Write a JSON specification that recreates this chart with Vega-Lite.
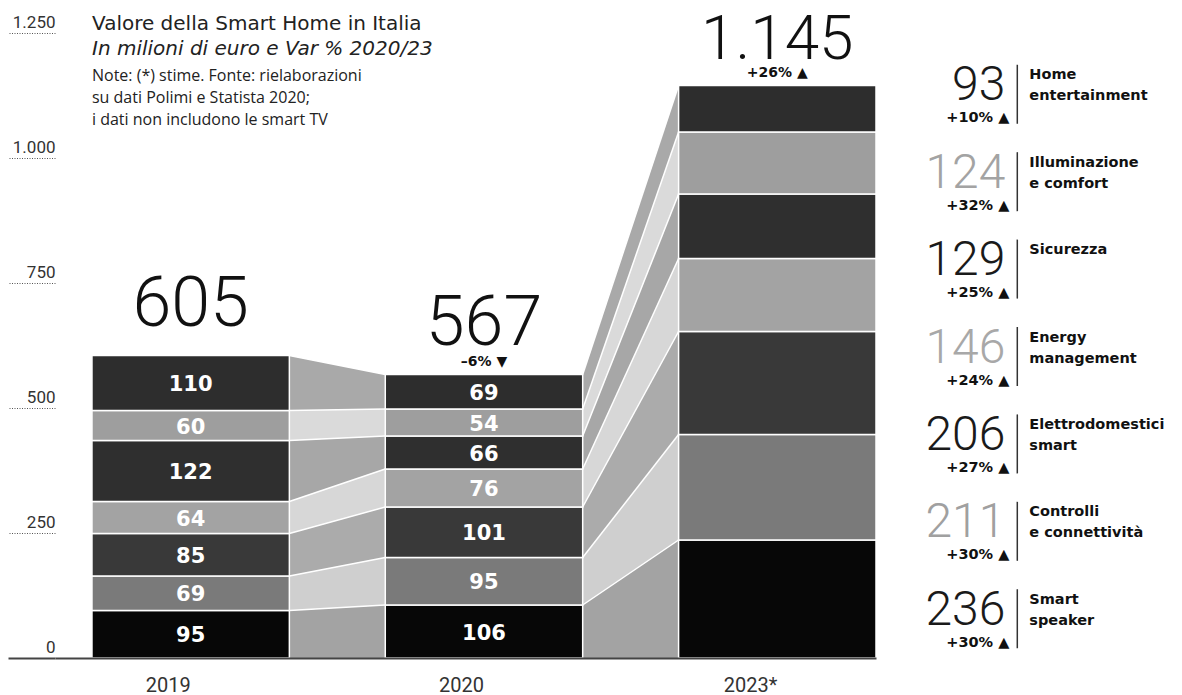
{
  "$schema": "https://vega.github.io/schema/vega-lite/v6.json",
  "autosize": {"type": "none"},
  "padding": {"left": 55, "top": 33, "right": 306, "bottom": 37},
  "width": 821,
  "height": 625,
  "background": "white",
  "config": {
    "view": {"stroke": null},
    "font": "Roboto",
    "locale": {"number": {"decimal": ",", "thousands": ".", "grouping": [3], "currency": ["€", ""]}}
  },
  "title": {
    "text": "Valore della Smart Home in Italia",
    "subtitle": "In milioni di euro e Var % 2020/23",
    "anchor": "start",
    "frame": "group",
    "dx": 37,
    "offset": -50,
    "font": "DejaVu Sans",
    "fontSize": 20,
    "fontWeight": "normal",
    "color": "#222222",
    "subtitleFont": "DejaVu Sans",
    "subtitleFontSize": 20,
    "subtitleFontStyle": "italic",
    "subtitleColor": "#222222",
    "subtitlePadding": 5
  },
  "datasets": {
    "seg": [
      {"year": "2019", "category": "Smart speaker", "value": 95},
      {"year": "2019", "category": "Controlli e connettività", "value": 69},
      {"year": "2019", "category": "Elettrodomestici smart", "value": 85},
      {"year": "2019", "category": "Energy management", "value": 64},
      {"year": "2019", "category": "Sicurezza", "value": 122},
      {"year": "2019", "category": "Illuminazione e comfort", "value": 60},
      {"year": "2019", "category": "Home entertainment", "value": 110},
      {"year": "2020", "category": "Smart speaker", "value": 106},
      {"year": "2020", "category": "Controlli e connettività", "value": 95},
      {"year": "2020", "category": "Elettrodomestici smart", "value": 101},
      {"year": "2020", "category": "Energy management", "value": 76},
      {"year": "2020", "category": "Sicurezza", "value": 66},
      {"year": "2020", "category": "Illuminazione e comfort", "value": 54},
      {"year": "2020", "category": "Home entertainment", "value": 69},
      {"year": "2023*", "category": "Smart speaker", "value": 236},
      {"year": "2023*", "category": "Controlli e connettività", "value": 211},
      {"year": "2023*", "category": "Elettrodomestici smart", "value": 206},
      {"year": "2023*", "category": "Energy management", "value": 146},
      {"year": "2023*", "category": "Sicurezza", "value": 129},
      {"year": "2023*", "category": "Illuminazione e comfort", "value": 124},
      {"year": "2023*", "category": "Home entertainment", "value": 93}
    ],
    "totals": [
      {"year": "2019", "total": 605, "change": ""},
      {"year": "2020", "total": 567, "change": "–6% ▼"},
      {"year": "2023*", "total": 1145, "change": "+26% ▲"}
    ],
    "legend": [
      {"category": "Home entertainment", "value": 93, "change": "+10% ▲", "label": "Home\nentertainment"},
      {"category": "Illuminazione e comfort", "value": 124, "change": "+32% ▲", "label": "Illuminazione\ne comfort"},
      {"category": "Sicurezza", "value": 129, "change": "+25% ▲", "label": "Sicurezza"},
      {"category": "Energy management", "value": 146, "change": "+24% ▲", "label": "Energy\nmanagement"},
      {"category": "Elettrodomestici smart", "value": 206, "change": "+27% ▲", "label": "Elettrodomestici\nsmart"},
      {"category": "Controlli e connettività", "value": 211, "change": "+30% ▲", "label": "Controlli\ne connettività"},
      {"category": "Smart speaker", "value": 236, "change": "+30% ▲", "label": "Smart\nspeaker"}
    ]
  },
  "layer": [
    {
      "layer": [
        {
          "data": {"name": "seg"},
          "transform": [
            {"window": [{"op": "row_number", "as": "ord"}], "groupby": ["year"]},
            {"stack": "value", "groupby": ["year"], "sort": [{"field": "ord", "order": "ascending"}], "as": ["y0", "y1"]},
            {"filter": {"field": "year", "oneOf": ["2019", "2020"]}}
          ],
          "encoding": {
            "x": {"field": "year", "type": "nominal"},
            "xOffset": {"field": "year", "type": "nominal", "scale": {"type": "point", "domain": ["2020", "2019"], "padding": 0}},
            "y": {"field": "y1", "type": "quantitative", "stack": null}
          },
          "layer": [
            {
              "mark": {"type": "area", "interpolate": "linear"},
              "encoding": {
                "y2": {"field": "y0"},
                "fill": {
                  "field": "category", "type": "nominal", "legend": null,
                  "scale": {
                    "domain": ["Smart speaker", "Controlli e connettività", "Elettrodomestici smart", "Energy management", "Sicurezza", "Illuminazione e comfort", "Home entertainment"],
                    "range": ["#a3a3a3", "#cfcfcf", "#ababab", "#d7d7d7", "#a7a7a7", "#dadada", "#a9a9a9"]
                  }
                }
              }
            },
            {
              "mark": {"type": "line", "color": "white", "strokeWidth": 1.5},
              "encoding": {"detail": {"field": "category", "type": "nominal"}}
            }
          ]
        },
        {
          "data": {"name": "seg"},
          "transform": [
            {"window": [{"op": "row_number", "as": "ord"}], "groupby": ["year"]},
            {"stack": "value", "groupby": ["year"], "sort": [{"field": "ord", "order": "ascending"}], "as": ["y0", "y1"]},
            {"filter": {"field": "year", "oneOf": ["2020", "2023*"]}}
          ],
          "encoding": {
            "x": {"field": "year", "type": "nominal"},
            "xOffset": {"field": "year", "type": "nominal", "scale": {"type": "point", "domain": ["2023*", "2020"], "padding": 0}},
            "y": {"field": "y1", "type": "quantitative", "stack": null}
          },
          "layer": [
            {
              "mark": {"type": "area", "interpolate": "linear"},
              "encoding": {
                "y2": {"field": "y0"},
                "fill": {"field": "category", "type": "nominal", "legend": null}
              }
            },
            {
              "mark": {"type": "line", "color": "white", "strokeWidth": 1.5},
              "encoding": {"detail": {"field": "category", "type": "nominal"}}
            }
          ]
        },
        {
          "data": {"name": "seg"},
          "transform": [
            {"window": [{"op": "row_number", "as": "ord"}], "groupby": ["year"]},
            {"stack": "value", "groupby": ["year"], "sort": [{"field": "ord", "order": "ascending"}], "as": ["y0", "y1"]}
          ],
          "mark": {"type": "bar", "stroke": "white", "strokeWidth": 1.5},
          "encoding": {
            "x": {
              "field": "year", "type": "nominal",
              "scale": {"domain": ["2019", "2020", "2023*"], "paddingInner": 0.327, "paddingOuter": 0.063, "align": 1},
              "axis": {"title": null, "labelAngle": 0, "domain": true, "domainColor": "#444444", "domainWidth": 2, "ticks": false, "labelPadding": 27, "labelFontSize": 20, "labelColor": "#333333", "labelFont": "Roboto", "zindex": 1}
            },
            "y": {
              "field": "y1", "type": "quantitative", "stack": null,
              "scale": {"domain": [0, 1250], "nice": false, "zero": true},
              "axis": {
                "title": null,
                "values": [0, 250, 500, 750, 1000, 1250],
                "format": ",d",
                "labelExpr": "replace(datum.label, ',', '.')",
                "domain": false,
                "grid": false,
                "ticks": true,
                "tickSize": 47,
                "tickColor": {"condition": {"test": "datum.value === 0", "value": "#444444"}, "value": "#555555"},
                "tickWidth": {"condition": {"test": "datum.value === 0", "value": 2}, "value": 1},
                "tickDash": {"condition": {"test": "datum.value === 0", "value": []}, "value": [1, 1.5]},
                "labelAlign": "right",
                "labelPadding": -47,
                "labelBaseline": "alphabetic",
                "labelOffset": -6,
                "labelFontSize": 17,
                "labelColor": "#333333",
                "labelFont": "Roboto"
              }
            },
            "y2": {"field": "y0"},
            "color": {
              "field": "category", "type": "nominal", "legend": null,
              "scale": {
                "domain": ["Smart speaker", "Controlli e connettività", "Elettrodomestici smart", "Energy management", "Sicurezza", "Illuminazione e comfort", "Home entertainment"],
                "range": ["#070707", "#7a7a7a", "#393939", "#a3a3a3", "#2f2f2f", "#9e9e9e", "#2d2d2d"]
              }
            }
          }
        },
        {
          "data": {"name": "seg"},
          "transform": [
            {"window": [{"op": "row_number", "as": "ord"}], "groupby": ["year"]},
            {"stack": "value", "groupby": ["year"], "sort": [{"field": "ord", "order": "ascending"}], "as": ["y0", "y1"]},
            {"filter": {"field": "year", "oneOf": ["2019", "2020"]}},
            {"fold": ["y0", "y1"], "as": ["edge", "pos"]},
            {"aggregate": [{"op": "mean", "field": "pos", "as": "mid"}, {"op": "max", "field": "value", "as": "value"}], "groupby": ["year", "category"]}
          ],
          "mark": {"type": "text", "font": "DejaVu Sans", "fontWeight": "bold", "fontSize": 21, "color": "white", "baseline": "middle", "dy": 2},
          "encoding": {
            "x": {"field": "year", "type": "nominal"},
            "y": {"field": "mid", "type": "quantitative"},
            "text": {"field": "value", "type": "quantitative"}
          }
        },
        {
          "data": {"name": "totals"},
          "transform": [{"filter": {"field": "year", "oneOf": ["2019", "2020"]}}],
          "mark": {"type": "text", "font": "Roboto", "fontWeight": 300, "fontSize": 70, "baseline": "alphabetic", "dy": -30, "color": "#111111"},
          "encoding": {
            "x": {"field": "year", "type": "nominal"},
            "y": {"field": "total", "type": "quantitative"},
            "text": {"field": "total", "type": "quantitative", "format": ","}
          }
        },
        {
          "data": {"name": "totals"},
          "transform": [{"filter": {"field": "year", "equal": "2023*"}}],
          "mark": {"type": "text", "font": "Roboto", "fontWeight": 300, "fontSize": 62, "baseline": "alphabetic", "dy": -27, "color": "#111111"},
          "encoding": {
            "x": {"field": "year", "type": "nominal"},
            "y": {"field": "total", "type": "quantitative"},
            "text": {"field": "total", "type": "quantitative", "format": ","}
          }
        },
        {
          "data": {"name": "totals"},
          "mark": {"type": "text", "font": "DejaVu Sans", "fontWeight": "bold", "fontSize": 14, "baseline": "middle", "dy": -13, "color": "#111111"},
          "encoding": {
            "x": {"field": "year", "type": "nominal"},
            "y": {"field": "total", "type": "quantitative"},
            "text": {"field": "change", "type": "nominal"}
          }
        },
        {
          "data": {"values": [{}]},
          "mark": {
            "type": "text",
            "text": ["Note: (*) stime. Fonte: rielaborazioni", "su dati Polimi e Statista 2020;", "i dati non includono le smart TV"],
            "align": "left", "baseline": "alphabetic", "font": "Open Sans", "fontSize": 16, "lineHeight": 22, "color": "#222222"
          },
          "encoding": {
            "x": {"datum": "2019", "bandPosition": 0},
            "y": {"datum": 1154}
          }
        }
      ],
      "resolve": {"scale": {"xOffset": "independent"}}
    },
    {
      "data": {"name": "legend"},
      "encoding": {
        "x": {"datum": "2023*"},
        "y": {
          "field": "category", "type": "nominal", "sort": null, "axis": null,
          "scale": {
            "type": "point", "padding": 0.575,
            "domain": ["Home entertainment", "Illuminazione e comfort", "Sicurezza", "Energy management", "Elettrodomestici smart", "Controlli e connettività", "Smart speaker"]
          }
        }
      },
      "layer": [
        {
          "mark": {"type": "text", "align": "right", "baseline": "alphabetic", "dx": 228, "dy": 17, "font": "Roboto", "fontWeight": 300, "fontSize": 48},
          "encoding": {
            "text": {"field": "value", "type": "quantitative"},
            "color": {
              "field": "category", "type": "nominal", "legend": null,
              "scale": {
                "domain": ["Home entertainment", "Illuminazione e comfort", "Sicurezza", "Energy management", "Elettrodomestici smart", "Controlli e connettività", "Smart speaker"],
                "range": ["#1a1a1a", "#a3a3a3", "#1a1a1a", "#a8a8a8", "#1a1a1a", "#a0a0a0", "#1a1a1a"]
              }
            }
          }
        },
        {
          "mark": {"type": "text", "align": "right", "baseline": "middle", "dx": 232, "dy": 35, "font": "DejaVu Sans", "fontWeight": "bold", "fontSize": 14.5, "color": "#111111"},
          "encoding": {"text": {"field": "change", "type": "nominal"}}
        },
        {
          "mark": {"type": "tick", "orient": "vertical", "xOffset": 240, "yOffset": 11, "size": 59, "thickness": 1.5, "color": "#333333", "opacity": 1},
          "encoding": {}
        },
        {
          "mark": {"type": "text", "align": "left", "baseline": "alphabetic", "dx": 252, "dy": -4, "font": "DejaVu Sans", "fontWeight": "bold", "fontSize": 14.5, "lineHeight": 21, "lineBreak": "\n", "color": "#111111"},
          "encoding": {"text": {"field": "label", "type": "nominal"}}
        }
      ]
    }
  ],
  "resolve": {"scale": {"y": "independent", "color": "independent"}}
}
